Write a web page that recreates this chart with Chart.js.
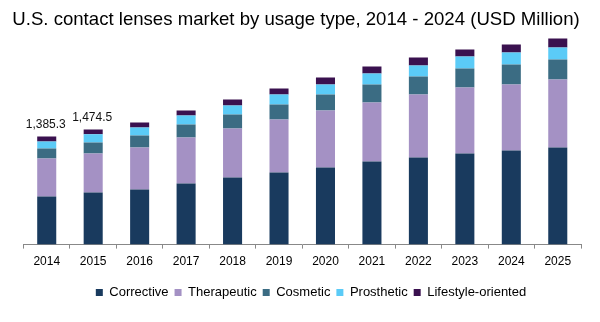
<!DOCTYPE html>
<html>
<head>
<meta charset="utf-8">
<script src="https://cdn.jsdelivr.net/npm/chart.js@4.4.1/dist/chart.umd.min.js"></script>
<style>
  html, body { margin: 0; padding: 0; background: #fff; }
  #wrap { width: 600px; height: 322px; position: relative; }
</style>
</head>
<body>
<div id="wrap"><canvas id="usageChart"></canvas></div>
<script>
// market size by usage type (USD Million)
const years = ['2014', '2015', '2016', '2017', '2018', '2019', '2020', '2021', '2022', '2023', '2024', '2025'];
const corrective = [615.7, 667.2, 705.7, 782.6, 859.6, 923.8, 987.9, 1064.9, 1116.2, 1167.5, 1206.0, 1244.5];
const therapeutic = [487.4, 500.4, 538.9, 590.2, 628.7, 680.0, 731.3, 757.0, 808.3, 846.8, 846.8, 872.4];
const cosmetic = [128.3, 141.1, 154.0, 166.8, 179.6, 192.5, 205.3, 230.9, 230.9, 243.8, 256.6, 256.6];
const prosthetic = [89.8, 106.5, 102.6, 115.5, 115.5, 128.3, 128.3, 141.1, 141.1, 154.0, 154.0, 154.0];
const lifestyle = [64.1, 59.3, 64.2, 64.2, 77.0, 77.0, 89.8, 89.8, 102.6, 89.8, 102.6, 115.5];
const labeledYears = ['2014', '2015'];
const chartTitle = 'U.S. contact lenses market by usage type, 2014 - 2024 (USD Million)';

const FONT = '"Liberation Sans", Arial, sans-serif';

// title drawn by hand so it can sit a little left of the plot centre
const titlePlugin = {
  id: 'topTitle',
  afterDraw(chart) {
    const c = chart.ctx;
    c.save();
    c.font = '18.6px ' + FONT;
    c.fillStyle = '#000';
    c.textAlign = 'center';
    c.textBaseline = 'alphabetic';
    c.fillText(chartTitle, 296, 25);
    c.restore();
  }
};

// stack totals above the first bars
const totalsPlugin = {
  id: 'totals',
  afterDatasetsDraw(chart) {
    const c = chart.ctx;
    const sets = chart.data.datasets;
    const topMeta = chart.getDatasetMeta(sets.length - 1);
    c.save();
    c.font = '12px ' + FONT;
    c.fillStyle = '#111';
    c.textAlign = 'center';
    c.textBaseline = 'alphabetic';
    years.forEach((yr, i) => {
      if (!labeledYears.includes(yr)) return;
      const total = sets.reduce((s, d) => s + d.data[i], 0);
      const txt = total.toLocaleString('en-US', { minimumFractionDigits: 1, maximumFractionDigits: 1 });
      const bar = topMeta.data[i];
      c.fillText(txt, bar.x - 1, bar.y - 9);
    });
    c.restore();
  }
};

const ctx = document.getElementById('usageChart').getContext('2d');
const chart = new Chart(ctx, {
  type: 'bar',
  data: {
    labels: years,
    datasets: [
      { label: 'Corrective', data: corrective, backgroundColor: '#193A5E' },
      { label: 'Therapeutic', data: therapeutic, backgroundColor: '#A491C4' },
      { label: 'Cosmetic', data: cosmetic, backgroundColor: '#3B6C83' },
      { label: 'Prosthetic', data: prosthetic, backgroundColor: '#5BCBF7' },
      { label: 'Lifestyle-oriented', data: lifestyle, backgroundColor: '#3A114F' }
    ]
  },
  options: {
    responsive: true,
    maintainAspectRatio: false,
    animation: false,
    layout: { padding: { left: 23.5, right: 1.5, top: 34, bottom: 13 } },
    datasets: { bar: { barPercentage: 0.41, categoryPercentage: 1.0 } },
    plugins: {
      title: { display: false },
      tooltip: { enabled: false },
      legend: {
        position: 'bottom',
        labels: {
          boxWidth: 7,
          boxHeight: 7,
          padding: 6,
          color: '#000',
          font: { family: FONT, size: 13 }
        }
      }
    },
    scales: {
      x: {
        stacked: true,
        grid: { display: true, drawOnChartArea: false, drawTicks: true, tickLength: 4, color: '#888', offset: true },
        border: { display: true, color: '#888', width: 1 },
        ticks: { color: '#000', padding: 6, font: { family: FONT, size: 12 } },
        afterFit: (axis) => { axis.height += 5; }
      },
      y: {
        stacked: true,
        position: 'right',
        min: 0,
        max: 2700,
        grid: { display: false },
        border: { display: false },
        ticks: { display: false },
        afterFit: (axis) => { axis.width = 17.5; }
      }
    }
  },
  plugins: [titlePlugin, totalsPlugin]
});
</script>
</body>
</html>
